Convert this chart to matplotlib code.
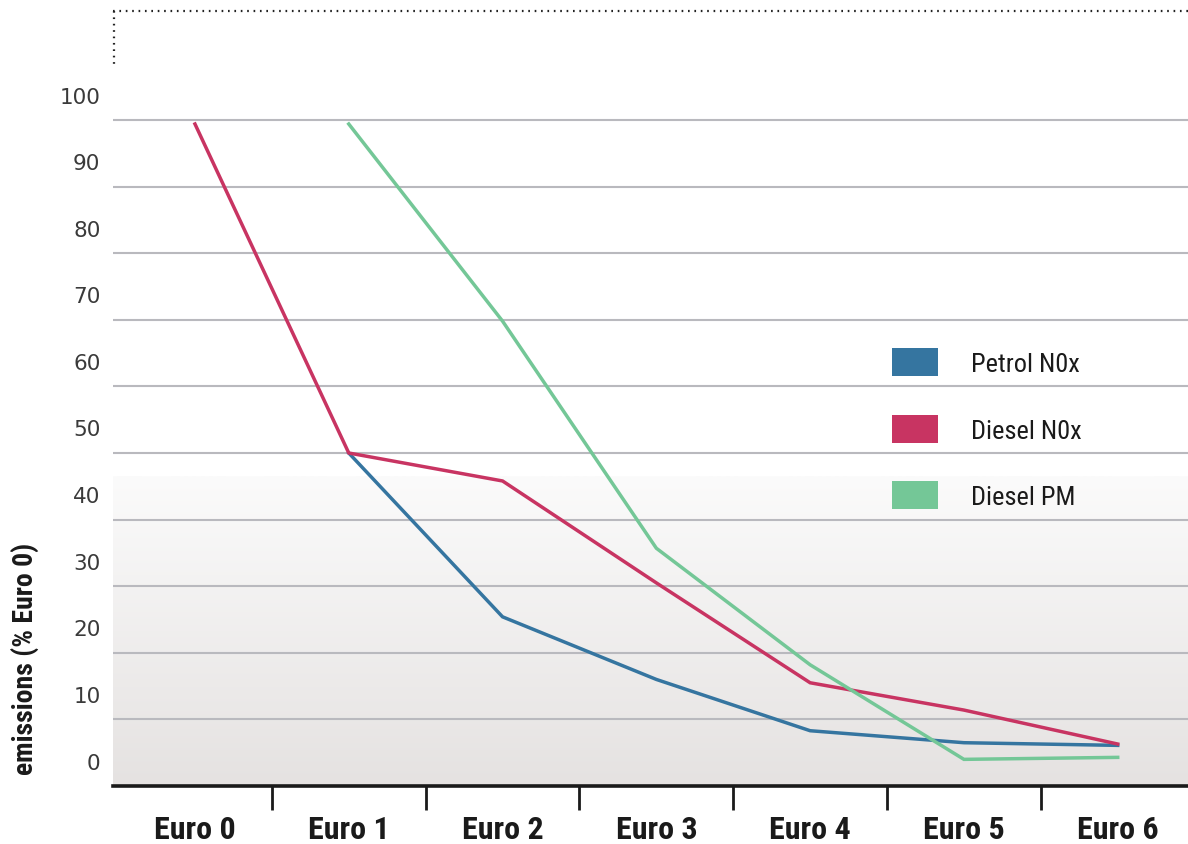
import matplotlib
matplotlib.use("Agg")
import matplotlib.pyplot as plt
import numpy as np
from matplotlib import font_manager
from matplotlib.lines import Line2D
from matplotlib.patches import Rectangle
from matplotlib.transforms import ScaledTranslation

# ---- data -------------------------------------------------------------
categories = ["Euro 0", "Euro 1", "Euro 2", "Euro 3", "Euro 4", "Euro 5", "Euro 6"]
petrol_nox = [None, 50.0, 25.4, 16.0, 8.3, 6.5, 6.1]
diesel_nox = [99.4, 50.0, 45.8, 30.5, 15.5, 11.4, 6.3]
diesel_pm = [None, 99.4, 69.8, 35.7, 18.2, 4.0, 4.3]
series_names = ["Petrol N0x", "Diesel N0x", "Diesel PM"]
y_ticks = [0, 10, 20, 30, 40, 50, 60, 70, 80, 90, 100]
y_label = "emissions (% Euro 0)"

colors = ["#3575a0", "#c83462", "#74c797"]

# pick a narrow sans family when one is available
installed = {f.name for f in font_manager.fontManager.ttflist}
narrow = None
for cand in ["Liberation Sans Narrow", "DejaVu Sans Condensed", "Roboto Condensed",
             "Open Sans Condensed", "Liberation Sans", "Roboto"]:
    if cand in installed:
        narrow = cand
        break
narrow_family = [narrow, "DejaVu Sans"] if narrow else ["DejaVu Sans"]
is_narrow = narrow in ("Liberation Sans Narrow", "DejaVu Sans Condensed",
                       "Roboto Condensed", "Open Sans Condensed")

W, H = 1188, 844
fig = plt.figure(figsize=(W / 100, H / 100), dpi=100)
fig.patch.set_facecolor("white")


def fx(x):
    return x / W


def fy(y):
    return 1 - y / H


ax_left, ax_right, ax_bottom = 113, 1188, 786
px_per_unit = 6.66
ymax = 101
ax = fig.add_axes([fx(ax_left), fy(ax_bottom), (ax_right - ax_left) / W,
                   ymax * px_per_unit / H])
ax.set_facecolor("white")

xlim = (-0.533, 6.457)
ax.set_xlim(*xlim)
ax.set_ylim(0, ymax)

# shaded lower band
grad = np.linspace(0, 1, 256)[:, None]
c_top = np.array([251, 251, 251]) / 255
c_bot = np.array([229, 226, 225]) / 255
img = c_bot[None, None, :] * (1 - grad[:, :, None]) + c_top[None, None, :] * grad[:, :, None]
ax.imshow(img, extent=(xlim[0], xlim[1], 0, 46.5), aspect="auto",
          origin="lower", zorder=0, interpolation="bilinear")

# grid lines
for v in y_ticks[1:]:
    ax.axhline(v, color="#b9b9be", lw=1.5, zorder=1)

x = np.arange(len(categories))
for vals, col in zip([petrol_nox, diesel_nox, diesel_pm], colors):
    xs = [xi for xi, v in zip(x, vals) if v is not None]
    ys = [v for v in vals if v is not None]
    ax.plot(xs, ys, color=col, lw=2.5, zorder=3, solid_joinstyle="miter",
            clip_on=False)

for s in ["top", "right", "left"]:
    ax.spines[s].set_visible(False)
ax.spines["bottom"].set_linewidth(2.6)
ax.spines["bottom"].set_color("#1a1a1a")
ax.spines["bottom"].set_zorder(4)

# y tick labels, set slightly above their grid lines
ax.set_yticks(y_ticks)
ax.set_yticklabels([str(v) for v in y_ticks], fontsize=15.5, color="#3a3a3a",
                   family="DejaVu Sans")
ax.tick_params(axis="y", length=0, pad=9)
for lab in ax.get_yticklabels():
    lab.set_transform(lab.get_transform() +
                      ScaledTranslation(0, 0.245, fig.dpi_scale_trans))

# category ticks between groups
xt_size = 23 if is_narrow else 19.5
ax.set_xticks(x)
ax.set_xticklabels(categories, fontsize=xt_size, family=narrow_family,
                   fontweight="bold", color="#1a1a1a")
ax.tick_params(axis="x", which="major", length=0, pad=21)
ax.set_xticks(x[:-1] + 0.5, minor=True)
ax.tick_params(axis="x", which="minor", length=17, width=2, color="#1a1a1a",
               direction="out")

# axis title
fig.text(fx(25), fy(775), y_label, rotation=90, ha="center", va="bottom",
         fontsize=20 if is_narrow else 17, fontweight="bold",
         family=narrow_family, color="#1a1a1a")

# legend
sw_tops = [348, 415, 481]
for name, col, top in zip(series_names, colors, sw_tops):
    fig.add_artist(Rectangle((fx(892), fy(top + 28)), 46 / W, 28 / H,
                             transform=fig.transFigure, facecolor=col,
                             edgecolor="none"))
    fig.text(fx(971), fy(top + 17), name, ha="left", va="center",
             fontsize=19 if is_narrow else 16.5, family=narrow_family,
             color="#1a1a1a")

# dotted frame at the top
plt.rcParams["lines.scale_dashes"] = False
dot = dict(color="#222222", lw=1.6, transform=fig.transFigure,
           dashes=(1.2, 3.4), dash_capstyle="butt")
fig.add_artist(Line2D([fx(113), fx(1188)], [fy(10.5), fy(10.5)], **dot))
fig.add_artist(Line2D([fx(114), fx(114)], [fy(10.5), fy(66)], **dot))

fig.savefig("out.png", dpi=100)
